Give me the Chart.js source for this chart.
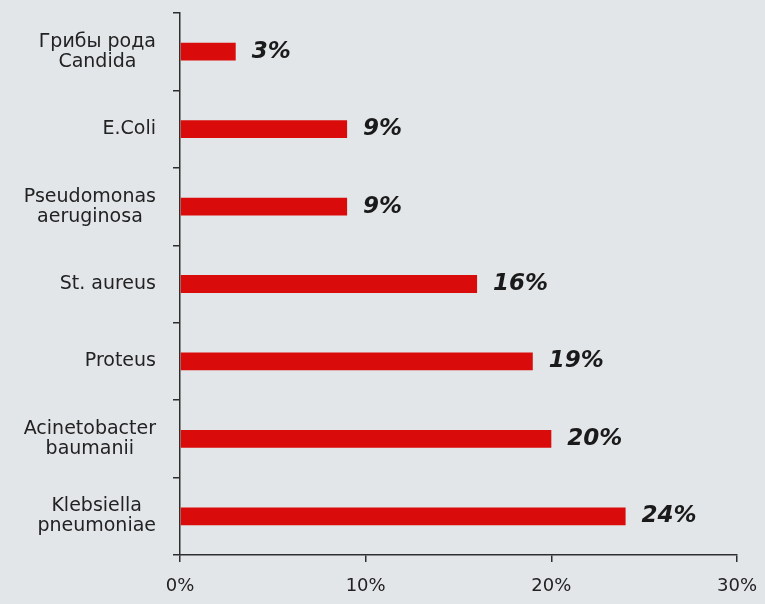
<!DOCTYPE html>
<html>
<head>
<meta charset="utf-8">
<script src="https://cdn.jsdelivr.net/npm/chart.js@4/dist/chart.umd.min.js"></script>
<style>
  html, body { margin: 0; padding: 0; background: #e3e6e9; }
  #wrap { width: 765px; height: 604px; }
</style>
</head>
<body>
<div id="wrap"><canvas id="myChart" width="765" height="604"></canvas></div>
<script>
const categories = [
    ['Грибы рода', 'Candida'],
    ['E.Coli'],
    ['Pseudomonas', 'aeruginosa'],
    ['St. aureus'],
    ['Proteus'],
    ['Acinetobacter', 'baumanii'],
    ['Klebsiella', 'pneumoniae']
];
const values = [3, 9, 9, 16, 19, 20, 24];
const xTicks = [0, 10, 20, 30];

const textColor = '#222';
const axisColor = '#2e2e2e';

// value labels to the right of each bar
const valueLabels = {
    id: 'valueLabels',
    afterDatasetsDraw(chart) {
        const c = chart.ctx;
        const meta = chart.getDatasetMeta(0);
        c.save();
        c.font = 'italic bold 23px "DejaVu Sans"';
        c.fillStyle = '#1a1a1a';
        c.textBaseline = 'middle';
        c.textAlign = 'left';
        meta.data.forEach((bar, i) => {
            c.fillText(values[i] + '%', bar.x + 16, bar.y);
        });
        c.restore();
    }
};

// category names: block right aligned, lines centered inside the block
const categoryLabels = {
    id: 'categoryLabels',
    afterDraw(chart) {
        const c = chart.ctx;
        const y = chart.scales.y;
        const right = 156;
        const lineH = 20;
        c.save();
        c.font = '19px "DejaVu Sans"';
        c.fillStyle = textColor;
        c.textBaseline = 'middle';
        c.textAlign = 'center';
        categories.forEach((lines, i) => {
            const w = Math.max(...lines.map(l => c.measureText(l).width));
            const cx = right - w / 2;
            const cy = y.getPixelForValue(i);
            lines.forEach((l, j) => {
                c.fillText(l, cx, cy + (j - (lines.length - 1) / 2) * lineH);
            });
        });
        c.restore();
    }
};

new Chart(document.getElementById('myChart'), {
    type: 'bar',
    data: {
        labels: categories,
        datasets: [{
            data: values,
            backgroundColor: '#da0b0b',
            borderWidth: 0,
            categoryPercentage: 1,
            barPercentage: 0.23
        }]
    },
    options: {
        indexAxis: 'y',
        responsive: false,
        animation: false,
        layout: { padding: { top: 13, right: 28, left: 0, bottom: 0 } },
        plugins: {
            legend: { display: false },
            tooltip: { enabled: false }
        },
        scales: {
            x: {
                min: xTicks[0],
                max: xTicks[xTicks.length - 1],
                afterBuildTicks: (scale) => {
                    scale.ticks = xTicks.map(v => ({ value: v }));
                },
                afterFit: (scale) => {
                    scale.height = 49;
                    scale.paddingLeft = 0;
                    scale.paddingRight = 0;
                },
                grid: {
                    drawOnChartArea: false,
                    drawTicks: true,
                    tickLength: 7,
                    color: axisColor,
                    lineWidth: 1.5
                },
                border: { display: true, color: axisColor, width: 1.5 },
                ticks: {
                    padding: 14,
                    color: textColor,
                    font: { family: 'DejaVu Sans', size: 18 },
                    callback: (v) => v + '%'
                }
            },
            y: {
                afterFit: (scale) => { scale.width = 180; },
                grid: {
                    drawOnChartArea: false,
                    drawTicks: true,
                    tickLength: 7,
                    offset: true,
                    color: axisColor,
                    lineWidth: 1.5
                },
                border: { display: true, color: axisColor, width: 1.5 },
                ticks: { display: false }
            }
        }
    },
    plugins: [valueLabels, categoryLabels]
});
</script>
</body>
</html>
